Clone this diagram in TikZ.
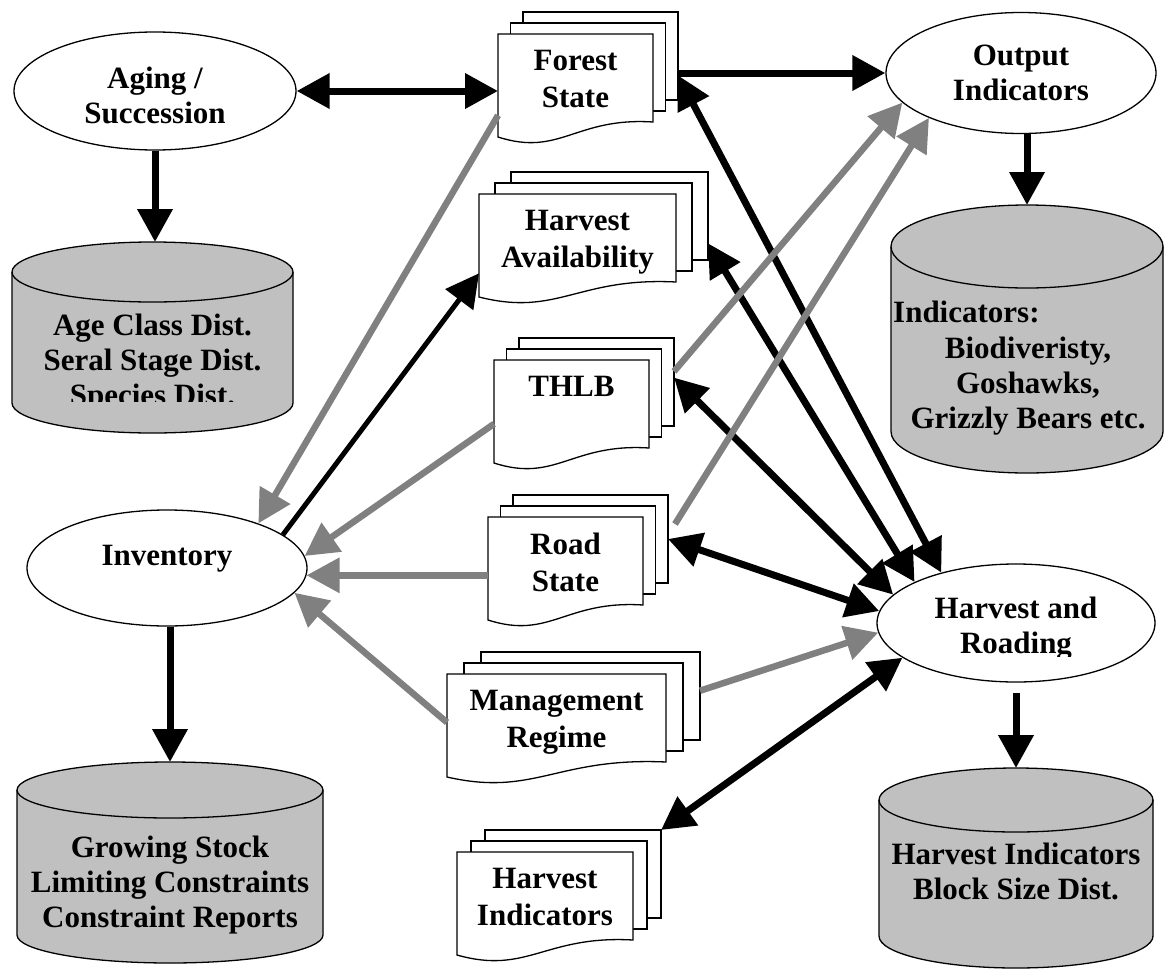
\documentclass[tikz,border=0pt]{standalone}
\usepackage{fontspec}
\setmainfont{Liberation Serif}
\usetikzlibrary{arrows.meta,calc,shapes.geometric}
\definecolor{cylgray}{HTML}{C0C0C0}
\definecolor{linkgray}{HTML}{808080}
\begin{document}
\begin{tikzpicture}[x=1pt, y=-1pt,
    font=\fontsize{31}{35}\selectfont\bfseries,
    bighead/.tip={Triangle[length=33pt, width=34pt]},
    proc/.style={ellipse, draw, line width=1.3pt, fill=white, inner sep=0pt, align=center},
    doc/.style={draw, line width=1.3pt, fill=white},
    docbox/.style={anchor=north west, minimum height=103pt, inner sep=0pt, outer sep=0pt},
    doctext/.style={anchor=north, align=center, inner sep=0pt, font=\fontsize{31}{37}\selectfont\bfseries},
    store/.style={draw, line width=1.3pt, fill=cylgray},
    flow/.style={line width=7pt, -bighead},
    dflow/.style={line width=7pt, bighead-bighead},
    gflow/.style={line width=6.5pt, linkgray, -bighead}]
    \useasboundingbox (0,0) rectangle (1167,969);
    % document stacks
    \foreach \nm/\x/\y/\w/\dx/\txt in {
        forest/498/34/155/12.5/{Forest\\State},
        harv/479/194/197/16/{Harvest\\Availability},
        thlb/494/360/155/12.5/{THLB},
        road/488/517/155/12.5/{Road\\State},
        mgmt/447/674/219/17/{Management\\Regime},
        hind/457/852/176/14/{Harvest\\Indicators}}{
        \foreach \k in {2,1}{
            \filldraw[doc] ({\x+\k*\dx},{\y-11*\k}) rectangle ++(\w,88);
        }
        \filldraw[doc] (\x,\y) -- ++(\w,0) -- ++(0,88)
            .. controls ({\x+0.5*\w},{\y+83}) and ({\x+0.4*\w},{\y+123}) .. (\x,{\y+103}) -- cycle;
        \node[docbox, minimum width=\w pt] (\nm) at (\x,\y) {};
        \node[docbox, minimum width=\w pt, minimum height=88pt] (\nm-b) at ({\x+2*\dx},{\y-22}) {};
        \node[doctext] (\nm-t) at ({\x+0.5*\w},{\y+16}) {\txt};
    }
    % data stores
    \foreach \nm/\cx/\ctop/\cbot/\rx/\ry in {
        agecyl/152.5/242/433/140.5/30,
        indcyl/1027/205/473/136/41.5,
        growcyl/170/762/963/153/28,
        hindcyl/1016/768/968/137/32}{
        \filldraw[store] ({\cx-\rx},{\ctop+\ry}) -- ({\cx-\rx},{\cbot-\ry})
            arc[start angle=180, end angle=360, x radius=\rx pt, y radius=\ry pt]
            -- ({\cx+\rx},{\ctop+\ry})
            arc[start angle=0, end angle=180, x radius=\rx pt, y radius=\ry pt] -- cycle;
        \draw[line width=1.3pt] ({\cx-\rx},{\ctop+\ry})
            arc[start angle=180, end angle=360, x radius=\rx pt, y radius=\ry pt];
        \coordinate (\nm) at (\cx,\ctop);
    }
    \begin{scope}
        \clip (0,300) rectangle (300,401);
        \node[align=center] (agetxt) at (152.5,363) {Age Class Dist.\\Seral Stage Dist.\\Species Dist.};
    \end{scope}
    \node[anchor=west, inner sep=0pt] (indhead) at (893,312) {Indicators:};
    \node[align=center] (indlist) at (1028,386) {Biodiveristy,\\Goshawks,\\Grizzly Bears etc.};
    \node[align=center] (growtxt) at (170,885) {Growing Stock\\Limiting Constraints\\Constraint Reports};
    \node[align=center] (hindtxt) at (1016,871) {Harvest Indicators\\Block Size Dist.};
    % processes
    \node[proc, minimum width=282pt, minimum height=118pt] (agesuc) at (155,91) {\rule{0pt}{31pt}Aging /\\Succession};
    \node[proc, minimum width=270pt, minimum height=121pt] (outind) at (1021,73) {Output\\Indicators};
    \node[proc, minimum width=280pt, minimum height=116pt] (invent) at (167,568) {\raisebox{3pt}[0pt][0pt]{Inventory}};
    \node[proc, minimum width=278pt, minimum height=118pt] (harvroad) at (1016,623) {};
    \begin{scope}
        \clip (870,560) rectangle (1160,656);
        \node[align=center] (harvroad-t) at (1016,629) {Harvest and\\Roading};
    \end{scope}
    % links
    \draw[dflow] (agesuc.east) -- (agesuc.east -| forest.west);
    \draw[flow] (outind.west -| forest-b.east) -- (outind.west);
    \draw[dflow] ($(forest-b.north east)!0.72!(forest-b.south east)$) -- (harvroad.146);
    \draw[dflow] ($(harv-b.north east)!0.81!(harv-b.south east)$) -- (harvroad.158);
    \draw[dflow] ($(thlb-b.north east)!0.45!(thlb-b.south east)$) -- (harvroad.167);
    \draw[dflow] (road-b.east) -- (harvroad.175);
    \draw[gflow] ($(mgmt-b.north east)!0.44!(mgmt-b.south east)$) -- (harvroad.184);
    \draw[dflow] (harvroad.197) -- (hind-b.north east);
    \draw[gflow] ($(thlb-b.north east)!0.38!(thlb-b.south east)$) -- (outind.194);
    \draw[gflow] ([xshift=7pt]$(road-b.north east)!0.33!(road-b.south east)$) -- (outind.206);
    \draw[gflow] ($(forest.north west)!0.79!(forest.south west)$) -- (invent.26);
    \draw[gflow] ($(thlb.north west)!0.62!(thlb.south west)$) -- (invent.5);
    \draw[gflow] (invent.-3 -| road.west) -- (invent.-3);
    \draw[gflow] ($(mgmt.north west)!0.47!(mgmt.south west)$) -- (invent.-11);
    \draw[flow, line width=5pt] (invent.16) -- ($(harv.north west)!0.77!(harv.south west)$);
    \draw[flow] (agesuc.south) -- (agesuc.south |- agecyl);
    \draw[flow] (outind.south -| indcyl) -- (indcyl);
    \draw[flow] (invent.south -| growcyl) -- (growcyl);
    \draw[flow, shorten <=10pt] (harvroad.south -| hindcyl) -- (hindcyl);
\end{tikzpicture}
\end{document}
